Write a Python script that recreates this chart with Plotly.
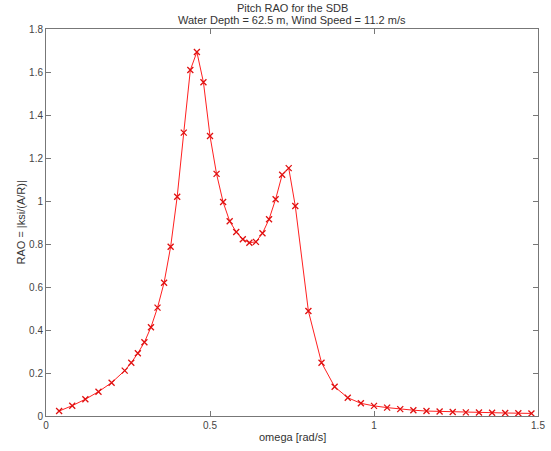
import plotly.graph_objects as go

omega = [0.04, 0.08, 0.12, 0.16, 0.20, 0.24, 0.26, 0.28, 0.30, 0.32, 0.34, 0.36, 0.38,
         0.40, 0.42, 0.44, 0.46, 0.48, 0.50, 0.52, 0.54, 0.56, 0.58, 0.60, 0.62, 0.64,
         0.66, 0.68, 0.70, 0.72, 0.74, 0.76, 0.80, 0.84, 0.88, 0.92, 0.96, 1.00, 1.04,
         1.08, 1.12, 1.16, 1.20, 1.24, 1.28, 1.32, 1.36, 1.40, 1.44, 1.48]
rao = [0.023, 0.048, 0.078, 0.113, 0.155, 0.211, 0.248, 0.292, 0.343, 0.413, 0.504, 0.620, 0.787,
       1.02, 1.318, 1.609, 1.693, 1.552, 1.302, 1.126, 0.995, 0.906, 0.856, 0.822, 0.806, 0.81,
       0.850, 0.915, 1.008, 1.122, 1.153, 0.977, 0.488, 0.248, 0.136, 0.085, 0.059, 0.047, 0.039,
       0.032, 0.027, 0.023, 0.021, 0.019, 0.017, 0.016, 0.015, 0.014, 0.013, 0.012]

title_lines = ["Pitch RAO for the SDB", "Water Depth = 62.5 m, Wind Speed = 11.2 m/s"]
x_label = "omega [rad/s]"
y_label = "RAO = |ksi/(A/R)|"

fig = go.Figure()
fig.add_trace(go.Scatter(
    x=omega, y=rao, mode="lines+markers",
    line=dict(color="#ff2020", width=1),
    marker=dict(symbol="x-thin", size=6, line=dict(color="#e01010", width=1.3), color="#e01010"),
    showlegend=False,
))

fam = "Liberation Sans, Arial, sans-serif"
txt = "#333333"
fig.update_layout(
    width=551, height=451,
    margin=dict(l=46, r=13, t=29, b=35),
    paper_bgcolor="white", plot_bgcolor="white",
    font=dict(family=fam, size=10, color=txt),
    xaxis=dict(range=[0, 1.5], dtick=0.5, tick0=0, showgrid=False, zeroline=False,
               showline=True, mirror="ticks", linecolor="#777777", linewidth=1,
               ticks="inside", ticklen=5, tickcolor="#777777", automargin=False,
               tickfont=dict(size=10, color="#444444")),
    yaxis=dict(range=[0, 1.8], dtick=0.2, tick0=0, showgrid=False, zeroline=False,
               showline=True, mirror="ticks", linecolor="#777777", linewidth=1,
               ticks="inside", ticklen=5, tickcolor="#777777", automargin=False,
               tickfont=dict(size=10, color="#444444")),
    annotations=[
        dict(text=title_lines[0], xref="paper", yref="paper", x=0.5, y=1, yshift=21,
             xanchor="center", yanchor="middle", showarrow=False,
             font=dict(family=fam, size=11, color=txt)),
        dict(text=title_lines[1], xref="paper", yref="paper", x=0.5, y=1, yshift=9,
             xanchor="center", yanchor="middle", showarrow=False,
             font=dict(family=fam, size=11, color=txt)),
        dict(text=x_label, xref="paper", yref="paper", x=0.5, y=0, yshift=-21,
             xanchor="center", yanchor="middle", showarrow=False,
             font=dict(family=fam, size=11, color=txt)),
        dict(text=y_label, xref="paper", yref="paper", x=0, y=0.5, xshift=-26,
             xanchor="center", yanchor="middle", textangle=-90, showarrow=False,
             font=dict(family=fam, size=11, color=txt)),
    ],
)

fig.write_html("out.html", config={"displayModeBar": False},
               post_script="document.body.style.margin='0';document.body.style.overflow='hidden';")
